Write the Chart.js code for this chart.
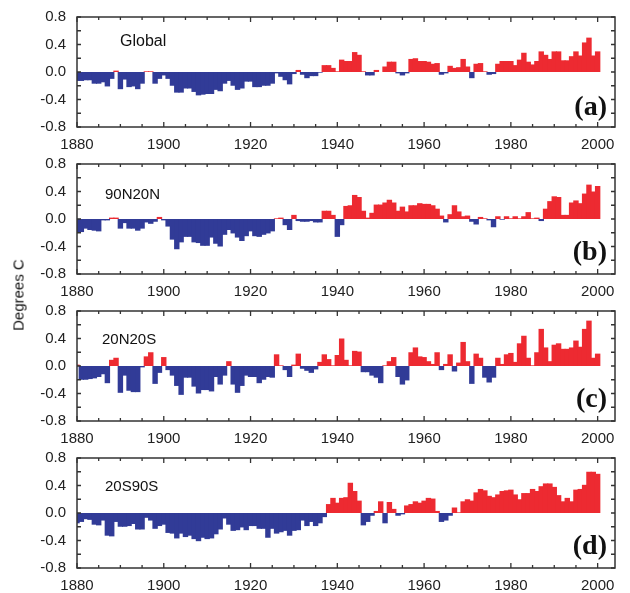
<!DOCTYPE html>
<html>
<head>
    <title>Temperature anomalies by latitude band</title>
    <script src="https://cdn.jsdelivr.net/npm/chart.js"></script>
    <style>
        body {
            margin: 0;
            background: #fff;
            font-family: Arial, "Liberation Sans", Helvetica, sans-serif;
            overflow: hidden;
        }
        #wrap {
            position: relative;
            width: 630px;
            height: 593px;
        }
        canvas {
            position: absolute;
            left: 0;
        }
        .name {
            position: absolute;
            font-size: 15px;
            line-height: 16px;
            color: #111;
        }
        .tag {
            position: absolute;
            right: 23px;
            font-family: "Liberation Serif", "Times New Roman", serif;
            font-weight: bold;
            font-size: 28px;
            line-height: 28px;
            color: #111;
        }
        #ylab {
            position: absolute;
            left: 18px;
            top: 295px;
            font-size: 15px;
            color: #111;
            white-space: nowrap;
            transform: translate(-50%, -50%) rotate(-90deg);
        }
    </style>
</head>
<body>
<div id="wrap">
    <canvas id="c0" width="630" height="145" style="top:7px"></canvas>
    <canvas id="c1" width="630" height="145" style="top:154px"></canvas>
    <canvas id="c2" width="630" height="145" style="top:301px"></canvas>
    <canvas id="c3" width="630" height="145" style="top:448px"></canvas>

    <div class="name" style="left:120px; top:33px; font-size:16px">Global</div>
    <div class="name" style="left:105px; top:186px">90N20N</div>
    <div class="name" style="left:102px; top:331px">20N20S</div>
    <div class="name" style="left:105px; top:478px">20S90S</div>

    <div class="tag" style="top:92px">(a)</div>
    <div class="tag" style="top:237px">(b)</div>
    <div class="tag" style="top:384px">(c)</div>
    <div class="tag" style="top:531px">(d)</div>

    <div id="ylab">Degrees C</div>
</div>

<script>
    const firstYear = 1880;
    const lastYear = 2000;
    const xTicks = [1880, 1900, 1920, 1940, 1960, 1980, 2000];
    const yTicks = [-0.8, -0.4, 0.0, 0.4, 0.8];

    // anomalies, one value per year 1880..2000
    const globalVals = [
        -0.13, -0.13, -0.12, -0.12, -0.17, -0.17, -0.15, -0.21, -0.10, 0.02,
        -0.25, -0.11, -0.22, -0.21, -0.25, -0.17, 0.01, 0.01, -0.17, -0.10,
        -0.05, -0.10, -0.20, -0.30, -0.30, -0.24, -0.24, -0.29, -0.34, -0.33,
        -0.32, -0.32, -0.26, -0.28, -0.17, -0.13, -0.20, -0.26, -0.24, -0.14,
        -0.14, -0.22, -0.22, -0.20, -0.20, -0.17, -0.02, -0.07, -0.12, -0.18,
        -0.03, 0.03, -0.04, -0.09, -0.06, -0.06, -0.01, 0.10, 0.10, 0.06,
        0.01, 0.18, 0.16, 0.16, 0.29, 0.25, 0.01, -0.05, -0.05, 0.03,
        0.00, 0.08, 0.15, 0.15, -0.02, -0.05, -0.02, 0.19, 0.20, 0.16,
        0.16, 0.15, 0.12, 0.13, -0.04, -0.02, 0.09, 0.06, 0.07, 0.19,
        0.08, -0.09, 0.12, 0.13, 0.01, -0.04, -0.03, 0.12, 0.16, 0.16,
        0.16, 0.10, 0.18, 0.28, 0.15, 0.11, 0.16, 0.30, 0.25, 0.19,
        0.30, 0.30, 0.17, 0.17, 0.23, 0.30, 0.24, 0.43, 0.50, 0.24, 0.30
    ];
    const n90n20Vals = [
        -0.19, -0.19, -0.14, -0.16, -0.17, -0.18, -0.02, -0.02, 0.02, 0.02,
        -0.14, -0.06, -0.14, -0.14, -0.17, -0.14, -0.05, -0.07, -0.04, 0.03,
        -0.02, -0.11, -0.30, -0.44, -0.34, -0.26, -0.26, -0.34, -0.35, -0.39,
        -0.39, -0.27, -0.36, -0.40, -0.23, -0.16, -0.21, -0.27, -0.32, -0.25,
        -0.18, -0.25, -0.26, -0.23, -0.21, -0.18, 0.01, 0.02, -0.09, -0.16,
        0.06, -0.03, -0.04, -0.04, -0.03, -0.05, -0.05, 0.12, 0.12, 0.06,
        -0.26, -0.09, 0.19, 0.20, 0.35, 0.32, 0.12, 0.02, 0.09, 0.21,
        0.21, 0.24, 0.28, 0.24, 0.12, 0.18, 0.11, 0.20, 0.20, 0.23,
        0.22, 0.22, 0.20, 0.15, 0.05, -0.05, 0.07, 0.20, 0.11, 0.04,
        0.05, -0.04, -0.08, 0.03, 0.01, -0.02, -0.12, 0.04, -0.01, 0.04,
        0.01, 0.04, 0.01, 0.04, 0.10, 0.01, 0.02, -0.03, 0.15, 0.26,
        0.33, 0.32, 0.06, 0.06, 0.24, 0.27, 0.23, 0.37, 0.50, 0.40, 0.48
    ];
    const n20s20Vals = [
        0.02, -0.20, -0.20, -0.19, -0.18, -0.16, -0.12, -0.25, 0.09, 0.12,
        -0.39, -0.14, -0.36, -0.38, -0.38, -0.02, 0.14, 0.20, -0.26, -0.10,
        0.13, -0.06, -0.14, -0.29, -0.42, -0.17, -0.17, -0.30, -0.40, -0.35,
        -0.35, -0.37, -0.16, -0.27, -0.14, 0.07, -0.27, -0.39, -0.29, -0.14,
        -0.16, -0.16, -0.25, -0.20, -0.16, -0.17, 0.17, 0.01, -0.06, -0.16,
        0.02, 0.18, -0.04, -0.07, -0.10, -0.05, 0.06, 0.17, 0.10, 0.01,
        0.16, 0.40, 0.09, 0.01, 0.22, 0.21, -0.09, -0.09, -0.14, -0.17,
        -0.25, 0.01, 0.07, 0.13, -0.16, -0.27, -0.21, 0.20, 0.27, 0.14,
        0.13, 0.07, 0.03, 0.20, -0.06, 0.03, 0.17, -0.08, 0.05, 0.35,
        0.07, -0.26, 0.18, 0.12, -0.17, -0.24, -0.17, 0.12, 0.03, 0.17,
        0.19, 0.06, 0.33, 0.44, 0.12, 0.01, 0.20, 0.54, 0.27, 0.07,
        0.31, 0.33, 0.25, 0.25, 0.27, 0.37, 0.28, 0.54, 0.66, 0.12, 0.18
    ];
    const s20s90Vals = [
        -0.15, -0.13, -0.09, -0.10, -0.17, -0.18, -0.11, -0.33, -0.34, -0.13,
        -0.20, -0.20, -0.19, -0.16, -0.24, -0.24, -0.07, -0.11, -0.23, -0.19,
        -0.17, -0.29, -0.30, -0.37, -0.30, -0.35, -0.33, -0.38, -0.41, -0.36,
        -0.38, -0.37, -0.31, -0.24, -0.08, -0.17, -0.26, -0.25, -0.21, -0.25,
        -0.19, -0.19, -0.23, -0.23, -0.36, -0.23, -0.30, -0.28, -0.26, -0.33,
        -0.26, -0.25, -0.11, -0.19, -0.13, -0.19, -0.15, -0.06, 0.13, 0.22,
        0.15, 0.22, 0.23, 0.44, 0.32, 0.18, -0.18, -0.13, -0.04, 0.03,
        0.17, -0.15, 0.16, 0.06, -0.04, -0.02, 0.11, 0.13, 0.17, 0.15,
        0.18, 0.22, 0.21, 0.03, -0.13, -0.11, -0.04, 0.08, 0.01, 0.17,
        0.20, 0.18, 0.30, 0.35, 0.33, 0.25, 0.23, 0.27, 0.32, 0.33,
        0.34, 0.27, 0.20, 0.29, 0.29, 0.35, 0.32, 0.39, 0.43, 0.43,
        0.38, 0.26, 0.17, 0.22, 0.17, 0.34, 0.35, 0.41, 0.60, 0.60, 0.57
    ];

    const years = [];
    for (let y = firstYear; y <= lastYear; y++) years.push(y);

    const RED = '#ed2a31';
    const BLUE = '#313b97';
    const INK = '#222';
    const FONT = 'Arial, "Liberation Sans", sans-serif';

    // frame + inward tick marks on all four sides
    const framePlugin = {
        id: 'frame',
        afterDraw(chart) {
            const { ctx, chartArea: a, scales } = chart;
            ctx.save();
            ctx.strokeStyle = '#333';
            ctx.lineWidth = 1.3;
            ctx.beginPath();
            for (let y = 1880; y <= 2000; y += 5) {
                const px = scales.x.getPixelForValue(y);
                const len = y % 20 === 0 ? 5 : 3;
                ctx.moveTo(px, a.bottom); ctx.lineTo(px, a.bottom - len);
                ctx.moveTo(px, a.top); ctx.lineTo(px, a.top + len);
            }
            for (let v = -0.8; v <= 0.81; v += 0.2) {
                const py = scales.y.getPixelForValue(v);
                ctx.moveTo(a.left, py); ctx.lineTo(a.left + 4, py);
                ctx.moveTo(a.right, py); ctx.lineTo(a.right - 4, py);
            }
            ctx.stroke();
            ctx.lineWidth = 1.5;
            ctx.strokeRect(a.left, a.top, a.right - a.left, a.bottom - a.top);
            ctx.restore();
        }
    };

    function noOverflow(s) {
        s.paddingTop = 0;
        s.paddingBottom = 0;
        s.paddingLeft = 0;
        s.paddingRight = 0;
    }

    function makePanel(id, vals) {
        new Chart(document.getElementById(id), {
            type: 'bar',
            data: {
                datasets: [{
                    data: vals.map((v, i) => ({ x: years[i], y: v })),
                    backgroundColor: c => (c.raw && c.raw.y >= 0 ? RED : BLUE),
                    borderWidth: 0,
                    barPercentage: 1.25,
                    categoryPercentage: 1.0,
                    clip: 0
                }]
            },
            options: {
                responsive: false,
                animation: false,
                layout: { padding: { top: 10, right: 15, left: 0, bottom: 0 } },
                plugins: { legend: { display: false }, tooltip: { enabled: false } },
                scales: {
                    x: {
                        type: 'linear',
                        min: 1880,
                        max: 2004,
                        offset: false,
                        grid: { display: false },
                        border: { display: false },
                        afterBuildTicks: s => { s.ticks = xTicks.map(v => ({ value: v })); },
                        afterFit: s => { s.height = 25; noOverflow(s); },
                        ticks: {
                            color: INK,
                            padding: 2,
                            maxRotation: 0,
                            font: { size: 15, family: FONT, lineHeight: 1.0 },
                            callback: v => String(v)
                        }
                    },
                    y: {
                        min: -0.8,
                        max: 0.8,
                        grid: { display: false },
                        border: { display: false },
                        afterBuildTicks: s => { s.ticks = yTicks.map(v => ({ value: v })); },
                        afterFit: s => { s.width = 77; noOverflow(s); },
                        ticks: {
                            color: INK,
                            padding: 3,
                            font: { size: 15, family: FONT },
                            callback: v => (Math.abs(v) < 1e-9 ? '0.0' : v.toFixed(1))
                        }
                    }
                }
            },
            plugins: [framePlugin]
        });
    }

    makePanel('c0', globalVals);
    makePanel('c1', n90n20Vals);
    makePanel('c2', n20s20Vals);
    makePanel('c3', s20s90Vals);
</script>
</body>
</html>
